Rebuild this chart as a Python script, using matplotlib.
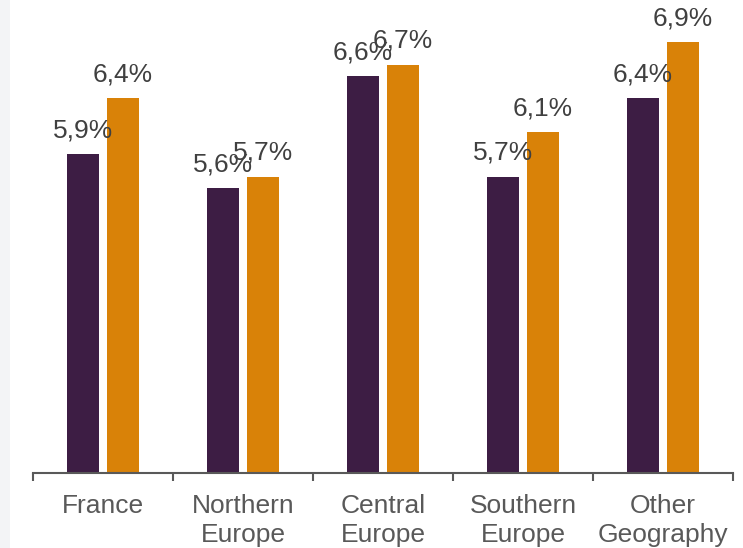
import matplotlib
matplotlib.use("Agg")
import matplotlib.pyplot as plt
import matplotlib.patches as mpatches
import numpy as np

plt.rcParams["font.family"] = ["Liberation Sans", "DejaVu Sans"]

# yield by geography, two periods
categories = ["France", "Northern\nEurope", "Central\nEurope", "Southern\nEurope", "Other\nGeography"]
values_prev = [5.9, 5.6, 6.6, 5.7, 6.4]
values_curr = [6.4, 5.7, 6.7, 6.1, 6.9]

DARK = "#3d1d44"
ORANGE = "#d98208"
AXIS_GREY = "#595959"
LABEL_GREY = "#404040"

fig = plt.figure(figsize=(7.43, 5.48), dpi=100)
fig.patches.append(mpatches.Rectangle((0, 0), 10 / 743, 1, transform=fig.transFigure,
                                      facecolor="#f3f4f6", edgecolor="none", zorder=0))

ax = fig.add_axes([33 / 743, 74.7 / 548, 700 / 743, 1 - 74.7 / 548])
ax.patch.set_alpha(0)

x = np.arange(len(categories))
width = 32 / 140
offset = 20 / 140

bars_prev = ax.bar(x - offset, values_prev, width, color=DARK, zorder=2)
bars_curr = ax.bar(x + offset, values_curr, width, color=ORANGE, zorder=2)

for bars, vals in ((bars_prev, values_prev), (bars_curr, values_curr)):
    for b, v in zip(bars, vals):
        ax.annotate(f"{v:.1f}%".replace(".", ","),
                    (b.get_x() + b.get_width() / 2, v),
                    xytext=(0, 12), textcoords="offset points",
                    ha="center", va="baseline", fontsize=19,
                    color=LABEL_GREY, zorder=3, annotation_clip=False)

ax.set_xlim(-0.5, len(categories) - 0.5)
ax.set_ylim(3.05, 3.05 + 473.3 / 112)

for side in ("left", "right", "top"):
    ax.spines[side].set_visible(False)
ax.spines["bottom"].set_color(AXIS_GREY)
ax.spines["bottom"].set_linewidth(1.5)
ax.set_yticks([])

# boundary ticks between categories, labels at centres
ax.set_xticks(np.arange(len(categories) + 1) - 0.5)
ax.set_xticklabels([])
ax.tick_params(axis="x", which="major", direction="out", length=6,
               width=1.5, color=AXIS_GREY)
ax.set_xticks(x, minor=True)
ax.set_xticklabels(categories, minor=True, fontsize=19, color=AXIS_GREY,
                   linespacing=1.28)
ax.tick_params(axis="x", which="minor", length=0, pad=15)

fig.savefig("out.png", dpi=100)
